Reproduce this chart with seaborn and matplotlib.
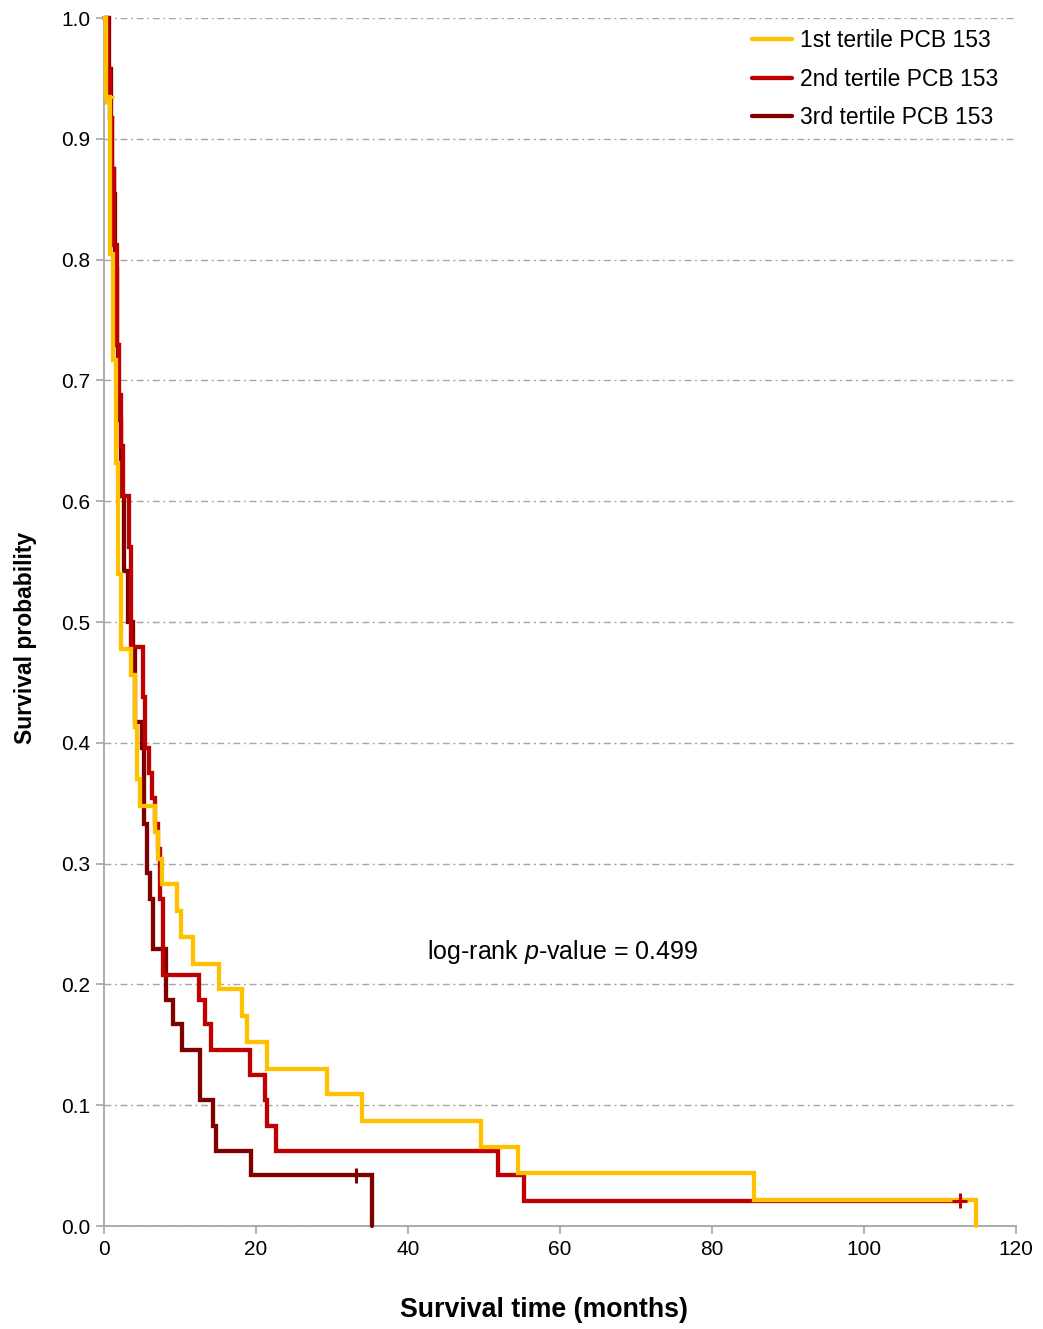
import numpy as np
import pandas as pd
import matplotlib
matplotlib.use("Agg")
import matplotlib.pyplot as plt
import seaborn as sns

# ---- data ----
groups = ["1st tertile PCB 153", "2nd tertile PCB 153", "3rd tertile PCB 153"]
colors = ["#FFC000", "#C00000", "#7F0000"]

t1 = [0, 0.3, 0.75, 1.2, 1.6, 1.9, 2.3, 3.5, 4.1, 4.4, 4.8, 6.7, 7.1, 7.6, 9.6, 10.1, 11.65,
      15.1, 18.1, 18.8, 21.4, 29.3, 34.0, 49.6, 54.5, 85.5, 114.7]
s1 = [1.0, 0.935, 0.805, 0.717, 0.632, 0.54, 0.478, 0.456, 0.413, 0.370, 0.348, 0.326, 0.304,
      0.283, 0.261, 0.239, 0.217, 0.196, 0.174, 0.152, 0.130, 0.109, 0.087, 0.065, 0.0435,
      0.0217, 0.0]

t2 = [0, 0.5, 0.83, 1.0, 1.3, 1.65, 2.0, 2.2, 2.45, 3.25, 3.5, 3.6, 5.1, 5.4, 5.96, 6.3, 6.7,
      7.1, 7.4, 7.75, 12.55, 13.3, 14.1, 19.2, 21.2, 21.4, 22.6, 51.9, 55.2, 112.6]
s2 = [1.0, 0.958, 0.917, 0.875, 0.812, 0.729, 0.688, 0.646, 0.604, 0.562, 0.500, 0.479, 0.438,
      0.396, 0.375, 0.354, 0.333, 0.312, 0.271, 0.208, 0.1875, 0.167, 0.146, 0.125, 0.104,
      0.083, 0.0625, 0.042, 0.021, 0.021]

t3 = [0, 0.7, 0.9, 1.1, 1.35, 1.5, 1.7, 1.9, 2.2, 2.6, 3.2, 3.85, 4.1, 4.95, 5.2, 5.6, 6.05,
      6.5, 8.15, 9.1, 10.2, 12.6, 14.3, 14.8, 19.4, 35.2]
s3 = [1.0, 0.958, 0.917, 0.875, 0.854, 0.792, 0.729, 0.667, 0.604, 0.542, 0.500, 0.479, 0.417,
      0.396, 0.333, 0.292, 0.271, 0.229, 0.1875, 0.167, 0.146, 0.104, 0.083, 0.0625, 0.042, 0.0]

# censored observations
cens_group = [groups[0], groups[1], groups[2]]
cens_t = [0.3, 112.6, 33.2]
cens_s = [0.935, 0.021, 0.042]

x_ticks = [0, 20, 40, 60, 80, 100, 120]
y_ticks = [0.0, 0.1, 0.2, 0.3, 0.4, 0.5, 0.6, 0.7, 0.8, 0.9, 1.0]
x_label = "Survival time (months)"
y_label = "Survival probability"
annotation = "log-rank $\\mathit{p}$-value = 0.499"

# ---- build tables ----
curves = pd.concat([
    pd.DataFrame({"time": t1, "surv": s1, "group": groups[0]}),
    pd.DataFrame({"time": t2, "surv": s2, "group": groups[1]}),
    pd.DataFrame({"time": t3, "surv": s3, "group": groups[2]}),
], ignore_index=True)
cens = pd.DataFrame({"time": cens_t, "surv": cens_s, "group": cens_group})
palette = dict(zip(groups, colors))

sns.set_theme(style="white")
plt.rcParams["font.family"] = ["Liberation Sans", "DejaVu Sans"]
plt.rcParams["mathtext.fontset"] = "custom"
plt.rcParams["mathtext.rm"] = "Liberation Sans"
plt.rcParams["mathtext.it"] = "Liberation Sans:italic"
plt.rcParams["text.color"] = "#000000"
plt.rcParams["axes.labelcolor"] = "#000000"
plt.rcParams["xtick.color"] = "#000000"
plt.rcParams["ytick.color"] = "#000000"

fig = plt.figure(figsize=(10.43, 13.29), dpi=100)
ax = fig.add_axes([104 / 1043, 1 - 1226 / 1329, 912 / 1043, 1208 / 1329])

sns.lineplot(data=curves, x="time", y="surv", hue="group", hue_order=groups,
             palette=palette, estimator=None, sort=False, drawstyle="steps-post",
             linewidth=3.1, ax=ax, legend=True)
for i, ln in enumerate(ax.lines[:3]):
    ln.set_zorder(5 - i)
    ln.set_solid_joinstyle("miter")
    ln.set_clip_on(False)

sns.scatterplot(data=cens, x="time", y="surv", hue="group", hue_order=groups,
                palette=palette, marker="+", s=110, linewidth=2.2, ax=ax,
                legend=False, zorder=6)

ax.set_xlim(0, 120)
ax.set_ylim(0, 1.0)
ax.set_xticks(x_ticks)
ax.set_yticks(y_ticks)
ax.set_yticklabels([f"{v:.1f}" for v in y_ticks])

gray = "#a6a6a6"
for side in ["top", "right"]:
    ax.spines[side].set_visible(False)
for side in ["left", "bottom"]:
    ax.spines[side].set_color(gray)
    ax.spines[side].set_linewidth(1.3)

ax.tick_params(axis="both", which="major", direction="out", length=6, width=1.2,
               color=gray, labelsize=15, labelcolor="#000000", pad=4, left=True, bottom=True)
ax.yaxis.grid(True, color="#a6a6a6", linewidth=1.0, linestyle=(0, (5, 2.6, 1.4, 2.6)))
ax.xaxis.grid(False)
ax.set_axisbelow(True)

ax.set_xlabel(x_label, fontsize=19.3, fontweight="bold", va="center", color="#000000")
ax.set_ylabel(y_label, fontsize=16.5, fontweight="bold", va="center", ha="center",
              color="#000000")
ax.xaxis.set_label_coords((544.5 - 104) / 912, -(1310 - 1226) / 1208)
ax.yaxis.set_label_coords((26 - 104) / 912, (1226 - 637.5) / 1208)

ax.text(60.3, 0.227, annotation, fontsize=18, ha="center", va="center", color="#000000")

handles, labels = ax.get_legend_handles_labels()
leg = ax.legend(handles[:3], labels[:3], loc="upper right", frameon=False, fontsize=16.5,
                handlelength=1.75, handletextpad=0.35, labelspacing=0.68,
                borderaxespad=0.0, bbox_to_anchor=(0.991, 0.9985))
for h in leg.get_lines():
    h.set_linewidth(3.1)
for txt in leg.get_texts():
    txt.set_color("#000000")

fig.savefig("out.png", dpi=100, facecolor="white")
